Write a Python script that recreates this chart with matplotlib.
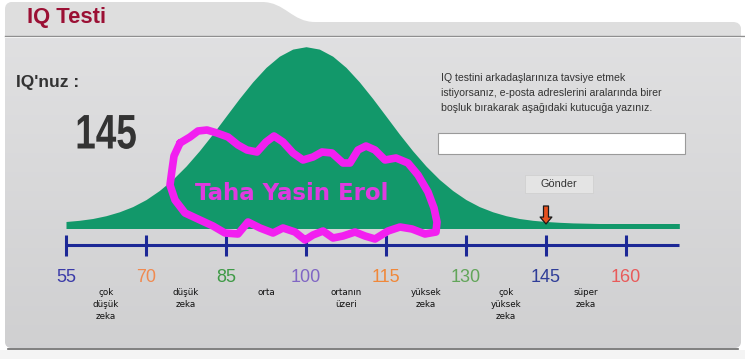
import numpy as np
import matplotlib
matplotlib.use("Agg")
import matplotlib.pyplot as plt
from matplotlib.patches import FancyBboxPatch, PathPatch, Rectangle
from matplotlib.path import Path
from matplotlib.patheffects import AbstractPathEffect
from matplotlib.transforms import Affine2D

# --- data ---
score = 145
tick_values = [55, 70, 85, 100, 115, 130, 145, 160]
tick_colors = ['#3a3aa8', '#f08a50', '#3e9a46', '#8066c4', '#f0883a', '#62a55a', '#2f3d98', '#e85a5a']
category_labels = ['çok\ndüşük\nzeka', 'düşük\nzeka', 'orta', 'ortanın\nüzeri',
                   'yüksek\nzeka', 'çok\nyüksek\nzeka', 'süper\nzeka']
category_mids = [62.5, 77.5, 92.5, 107.5, 122.5, 137.5, 152.5]

# bell curve heights (px above the base line)
curve_iq = [55, 57.5, 60, 62.5, 65, 67.5, 70, 72.5, 75, 77.5, 80, 82.5, 85, 87.5, 90, 92.5, 95, 97.5,
            100, 102.5, 105, 107.5, 110, 112.5, 115, 117.5, 120, 122.5, 125, 127.5, 130, 132.5, 135,
            137.5, 140, 142.5, 145, 147.5, 150, 155, 160, 165, 170]
curve_h = [2.0, 3.2, 5.0, 7.8, 11.7, 16.9, 23.9, 33.0, 44.1, 57.4, 72.7, 89.5, 107.3, 125.0, 141.6, 156.1, 167.3, 174.4,
           176.8, 174.4, 167.3, 156.1, 141.6, 125.0, 107.3, 89.5, 72.7, 57.4, 44.1, 33.0, 23.9, 16.9, 11.7,
           7.8, 5.0, 3.2, 2.0, 1.2, 0.6, 0, 0, 0, 0]

# hand drawn loop (pixel coords)
scribble_x = [180, 190, 198, 207, 217, 228, 238, 247, 257, 266, 274, 283, 293, 303, 313, 322, 332, 343, 350,
              358, 366, 375, 385, 396, 408, 418, 428, 434, 437, 436, 425, 412, 400, 388, 375, 365, 355, 343,
              333, 323, 313, 305, 295, 283, 273, 260, 248, 238, 225, 213, 200, 185, 175, 170, 172, 174, 180]
scribble_y = [143, 137, 131, 130, 133, 137, 145, 150, 152, 142, 136, 142, 153, 160, 157, 152, 153, 163, 163,
              150, 146, 150, 160, 158, 163, 175, 192, 208, 222, 232, 234, 229, 227, 231, 239, 236, 232, 236,
              238, 231, 235, 240, 232, 228, 233, 228, 222, 234, 233, 226, 220, 213, 200, 185, 170, 156, 143]

W, H = 745, 359
green = '#12986a'
navy = '#1c2896'


class Squeeze(AbstractPathEffect):
    # narrow the glyphs horizontally around a fixed display x
    def __init__(self, cx, sx):
        super().__init__()
        self.cx = cx
        self.sx = sx

    def draw_path(self, renderer, gc, tpath, affine, rgbFace=None):
        affine = affine + Affine2D().translate(-self.cx, 0).scale(self.sx, 1).translate(self.cx, 0)
        renderer.draw_path(gc, tpath, affine, rgbFace)


fig = plt.figure(figsize=(W / 100, H / 100), dpi=100)
fig.patch.set_facecolor('white')

# background panel (pixel coordinates)
bg = fig.add_axes([0, 0, 1, 1])
bg.set_xlim(0, W)
bg.set_ylim(H, 0)
bg.axis('off')

body = FancyBboxPatch((5, 30), 736, 318, boxstyle='round,pad=0,rounding_size=7',
                      fc='#d8d8d8', ec='none')
bg.add_patch(body)
rows = np.linspace(0, 1, 200)[:, None]
grad = np.ones((200, 2, 3))
top_c = np.array([0.88, 0.88, 0.885])
bot_c = np.array([0.815, 0.815, 0.82])
grad[:] = (top_c * (1 - rows[..., None]) + bot_c * rows[..., None])
img = bg.imshow(grad, extent=(5, 741, 348, 30), aspect='auto', zorder=1)
img.set_clip_path(body)

# header tab
verts = [(5, 35), (5, 9), (5, 3), (11, 2), (262, 2), (285, 2), (292, 22), (315, 22),
         (733, 22), (740, 22), (741, 28), (741, 35), (5, 35)]
codes = [Path.MOVETO, Path.LINETO, Path.CURVE3, Path.CURVE3, Path.LINETO, Path.CURVE4, Path.CURVE4,
         Path.CURVE4, Path.LINETO, Path.CURVE3, Path.CURVE3, Path.LINETO, Path.CLOSEPOLY]
bg.add_patch(PathPatch(Path(verts, codes), fc='#dedede', ec='none', zorder=2))
bg.plot([5, 745], [35.5, 35.5], color='#8a8a8a', lw=1.0, zorder=3)
bg.plot([5, 745], [37, 37], color='#f2f2f2', lw=0.8, zorder=3)
bg.plot([8, 738], [348.5, 348.5], color='#6a6a6a', lw=1.2, zorder=3)
bg.add_patch(Rectangle((0, 350), W, 9, fc='#f4f4f4', ec='none', zorder=3))

# chart axes: x in IQ, y in px above base line
px_per_iq = 560 / 105
ax = fig.add_axes([0, 0, 1, 1])
ax.patch.set_alpha(0)
ax.set_xlim(55 - 66 / px_per_iq, 55 + (W - 66) / px_per_iq)
ax.set_ylim(-(H - 226), 226)
ax.axis('off')

h = np.array(curve_h)
ax.fill_between(curve_iq, -2.5, h + 2.5, color=green, lw=0)
ax.plot([55, 170], [-19, -19], color=navy, lw=2.2, solid_capstyle='butt')
ax.vlines(tick_values, -30, -9, color=navy, lw=2.2)
for t, c in zip(tick_values, tick_colors):
    ax.text(t, -51, str(t), color=c, ha='center', va='center', fontsize=13, family='Liberation Sans')
for m, lab in zip(category_mids, category_labels):
    ax.text(m, -62, lab, ha='center', va='top', fontsize=6.3, linespacing=1.45, color='#111111')

ax.annotate('', xy=(score, 2), xytext=(score, 20),
            arrowprops=dict(arrowstyle='simple,head_length=0.5,head_width=0.85,tail_width=0.36',
                            fc='#e8501e', ec='#1a1a1a', lw=0.9, shrinkA=0, shrinkB=0))

# overlay for texts and the drawn loop (pixel coordinates)
top = fig.add_axes([0, 0, 1, 1])
top.patch.set_alpha(0)
top.set_xlim(0, W)
top.set_ylim(H, 0)
top.axis('off')

top.text(27, 18, 'IQ Testi', color='#9b1034', fontsize=15.8, fontweight='bold',
         family='Liberation Sans', va='center', ha='left')
top.text(16, 82, "IQ'nuz :", color='#333333', fontsize=12.5, fontweight='bold',
         family='Liberation Sans', va='center', ha='left')
score_x, score_y = 106, 136
cx = top.transData.transform((score_x, score_y))[0]
top.text(score_x, score_y, str(score), color='#333333', fontsize=35, fontweight='bold',
         family='Liberation Sans', va='center', ha='center',
         path_effects=[Squeeze(cx, 0.76)])

info = ['IQ testini arkadaşlarınıza tavsiye etmek',
        'istiyorsanız, e-posta adreslerini aralarında birer',
        'boşluk bırakarak aşağıdaki kutucuğa yazınız.']
for i, line in enumerate(info):
    top.text(441, 78 + i * 15, line, color='#333333', fontsize=7.6, family='Liberation Sans',
             va='center', ha='left')
top.add_patch(Rectangle((438, 133), 247, 21, fc='white', ec='#9a9a9a', lw=0.8))
top.add_patch(Rectangle((525, 175), 68, 18, fc='#e4e4e4', ec='#d0d0d0', lw=0.6))
top.text(559, 184, 'Gönder', color='#333333', fontsize=7.8, family='Liberation Sans',
         va='center', ha='center')

top.plot(scribble_x, scribble_y, color='#f21ff0', lw=5.5, solid_joinstyle='round', solid_capstyle='round')
top.text(292, 194, 'Taha Yasin Erol', color='#e03ae0', fontsize=16.5, fontweight='bold',
         family='DejaVu Sans', va='center', ha='center')

fig.savefig('out.png', dpi=100)
